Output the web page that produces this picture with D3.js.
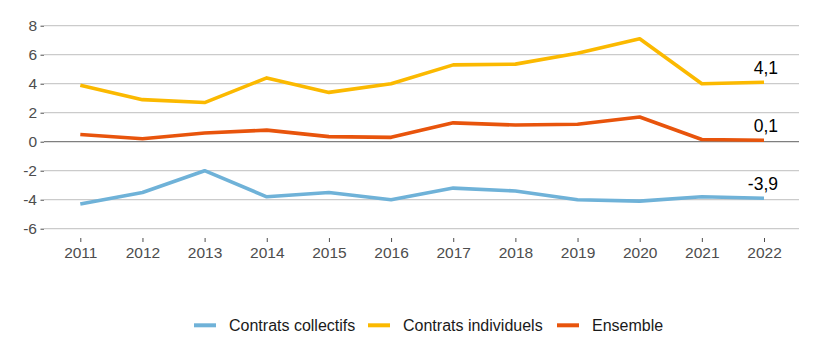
<!DOCTYPE html>
<html><head><meta charset="utf-8">
<script src="https://cdn.jsdelivr.net/npm/d3@7"></script>
<style>body{margin:0;background:#fff}svg{display:block;font-family:"Liberation Sans",Arial,sans-serif}</style>
</head><body><svg id="c" width="838" height="347"></svg>
<script>
const years = [2011,2012,2013,2014,2015,2016,2017,2018,2019,2020,2021,2022];
const collectifs = [-4.3,-3.5,-2.0,-3.8,-3.5,-4.0,-3.2,-3.4,-4.0,-4.1,-3.8,-3.9];
const individuels = [3.9,2.9,2.7,4.4,3.4,4.0,5.3,5.35,6.1,7.1,4.0,4.1];
const ensemble = [0.5,0.2,0.6,0.8,0.35,0.3,1.3,1.15,1.2,1.7,0.15,0.1];
const seriesNames = ["Contrats collectifs","Contrats individuels","Ensemble"];
const colors = ["#6fb2d8","#fbb900","#e8540c"];
const yTicks = [-6,-4,-2,0,2,4,6,8];
const endLabels = ["-3,9","4,1","0,1"];

const svg = d3.select("#c");
const left = 44, right = 799;
const x = d3.scalePoint().domain(years).range([80.3, 764]);
const y = d3.scaleLinear().domain([0, 8]).range([141.7, 25.7]);

svg.append("g").selectAll("line").data(yTicks).join("line")
  .attr("x1", left).attr("x2", right)
  .attr("y1", d => y(d)).attr("y2", d => y(d))
  .attr("stroke", d => d === 0 ? "#7f7f7f" : "#cbcbcb")
  .attr("stroke-width", d => d === 0 ? 1.3 : 1.2);

const ya = svg.append("g").attr("transform", `translate(${left},0)`)
  .call(d3.axisLeft(y).tickValues(yTicks).tickSize(3.5).tickPadding(3.5).tickFormat(d => String(d)));
ya.select(".domain").remove();
ya.selectAll("line").attr("stroke", "#4d4d4d");
ya.selectAll("text").attr("fill", "#4d4d4d").attr("font-size", 15.5).attr("font-family", "Liberation Sans, Arial, sans-serif");

const xa = svg.append("g").attr("transform", `translate(0,238)`)
  .call(d3.axisBottom(x).tickSize(4).tickPadding(5).tickFormat(d => String(d)));
xa.select(".domain").remove();
xa.selectAll("line").attr("stroke", "#4d4d4d");
xa.selectAll("text").attr("fill", "#4d4d4d").attr("font-size", 15.5).attr("font-family", "Liberation Sans, Arial, sans-serif");

const data = [collectifs, individuels, ensemble];
const line = d3.line().x((d, i) => x(years[i])).y(d => y(d));
svg.append("g").selectAll("path").data(data).join("path")
  .attr("d", line).attr("fill", "none")
  .attr("stroke", (d, i) => colors[i]).attr("stroke-width", 3.6)
  .attr("stroke-linejoin", "round");

svg.append("g").selectAll("text").data(data).join("text")
  .attr("x", 778).attr("y", d => y(d[d.length - 1]) - 8)
  .attr("text-anchor", "end").attr("font-size", 17.5).attr("fill", "#000")
  .text((d, i) => endLabels[i]);

const legX = [194, 368, 557];
const lg = svg.append("g").selectAll("g").data(seriesNames).join("g")
  .attr("transform", (d, i) => `translate(${legX[i]},325.3)`);
lg.append("line").attr("x1", 0).attr("x2", 22).attr("y1", 0).attr("y2", 0)
  .attr("stroke", (d, i) => colors[i]).attr("stroke-width", 4);
lg.append("text").attr("x", 35).attr("y", 5.5).attr("font-size", 16).attr("fill", "#1a1a1a").text(d => d);
</script></body></html>
